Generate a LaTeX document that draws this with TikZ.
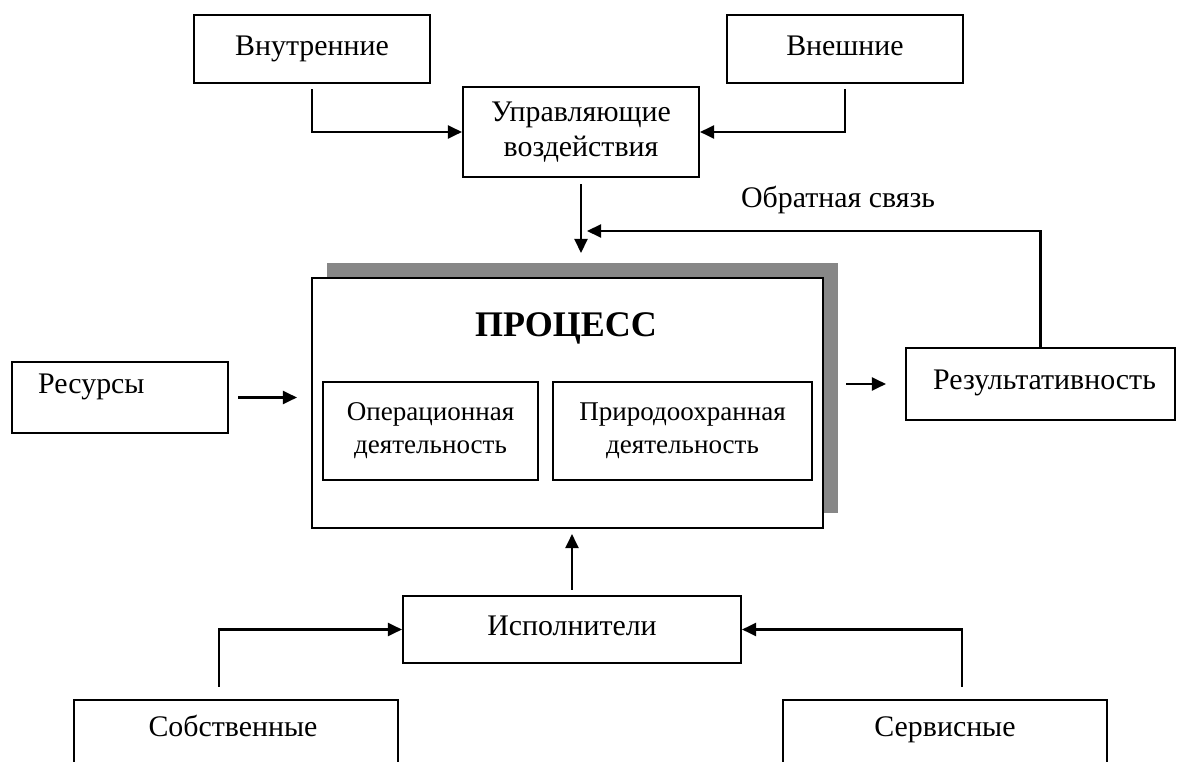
\documentclass[tikz,border=0pt]{standalone}
\usepackage{fontspec}
\setmainfont{Liberation Serif}
\usetikzlibrary{arrows.meta}

\begin{document}
\begin{tikzpicture}[
  box/.style={draw, line width=1.2pt, inner sep=0pt},
  arr/.style={line width=1.2pt, -{Triangle[length=0.28cm,width=0.26cm]}},
  lbl/.style={font=\fontsize{17}{20}\selectfont, align=center},
  oneline/.style={text height=11pt, text depth=4pt},
  small/.style={font=\fontsize{15.4}{18.8}\selectfont, align=center}]
   \useasboundingbox (0,0) rectangle (23.58,15.24);
   \clip (0,0) rectangle (23.58,15.24);

   % top row
   \node[box,lbl,oneline,minimum width=4.72cm,minimum height=1.36cm] (vnutr) at (6.24,14.26) {Внутренние};
   \node[box,lbl,oneline,minimum width=4.72cm,minimum height=1.36cm] (vnesh) at (16.90,14.26) {Внешние};
   \node[box,lbl,minimum width=4.72cm,minimum height=1.80cm] (upr) at (11.62,12.60) {Управляющие\\воздействия};

   % process
   \node[fill=black!47,minimum width=10.22cm,minimum height=5cm] (procshade) at (11.65,7.48) {};
   \node[box,fill=white,minimum width=10.22cm,minimum height=5cm] (proc) at (11.35,7.18) {};
   \node[font=\fontsize{20.5}{24}\selectfont\bfseries,anchor=base] (proctitle) at (11.32,8.50) {ПРОЦЕСС};
   \node[box,small,minimum width=4.30cm,minimum height=1.96cm] (oper) at (8.61,6.62) {Операционная\\деятельность};
   \node[box,small,minimum width=5.18cm,minimum height=1.96cm] (prir) at (13.65,6.62) {Природоохранная\\деятельность};

   % sides
   \node[box,minimum width=4.32cm,minimum height=1.42cm] (res) at (2.40,7.29) {};
   \node[lbl,anchor=base west] (restext) at (0.64,7.36) {Ресурсы};
   \node[box,minimum width=5.38cm,minimum height=1.44cm] (rez) at (20.81,7.56) {};
   \node[lbl,anchor=base west] (reztext) at (18.54,7.44) {Результативность};
   \node[lbl] (fbtext) at (16.76,11.24) {Обратная связь};

   % bottom row
   \node[box,lbl,oneline,minimum width=6.76cm,minimum height=1.34cm] (isp) at (11.44,2.65) {Исполнители};
   \node[box,minimum width=6.48cm,minimum height=1.6cm,anchor=north] (sobst) at (4.72,1.26) {};
   \node[lbl,anchor=base] (sobsttext) at (4.66,0.50) {Собственные};
   \node[box,minimum width=6.48cm,minimum height=1.6cm,anchor=north] (serv) at (18.90,1.26) {};
   \node[lbl,anchor=base] (servtext) at (18.90,0.50) {Сервисные};

   \coordinate (inpt) at (11.62,10.18);
   \coordinate (fbend) at (11.74,10.62);

   \draw[arr,shorten <=0.1cm] (vnutr.south) |- (upr.west);
   \draw[arr,shorten <=0.1cm] (vnesh.south) |- (upr.east);
   \draw[arr,shorten <=0.12cm] (upr.south) -- (upr.south |- inpt);
   \draw[arr] (rez.north) |- (fbend);
   \draw[arr,shorten <=0.18cm,shorten >=0.28cm] (res.east) -- (res.east -| proc.west);
   \draw[arr,shorten <=0.44cm,shorten >=0.38cm] (rez.west -| proc.east) -- (rez.west);
   \draw[arr,shorten <=0.1cm,shorten >=0.1cm] (isp.north) -- (isp.north |- proc.south);
   \draw[arr] ([xshift=-0.34cm,yshift=0.24cm]sobst.north) |- (isp.west);
   \draw[arr] ([xshift=0.34cm,yshift=0.24cm]serv.north) |- (isp.east);
\end{tikzpicture}
\end{document}
